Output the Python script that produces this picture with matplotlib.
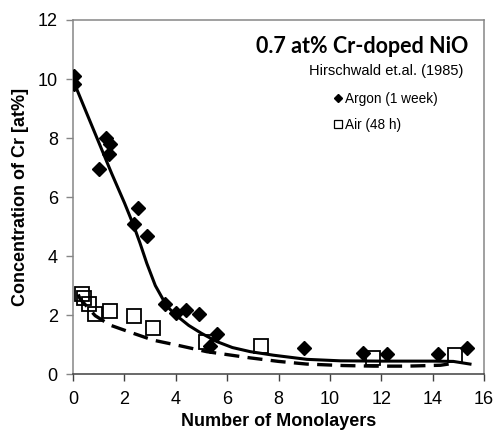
import matplotlib.pyplot as plt
from matplotlib.lines import Line2D

# measured Cr concentration vs. depth (monolayers removed)
argon_x = [0.05, 0.05, 1.02, 1.28, 1.38, 1.44, 2.37, 2.54, 2.87, 3.58, 4.0, 4.38, 4.9, 5.33, 5.62, 9.0, 11.3, 12.23, 14.22, 15.32]
argon_y = [10.1, 9.82, 6.95, 8.0, 7.46, 7.8, 5.1, 5.62, 4.68, 2.36, 2.06, 2.17, 2.02, 0.95, 1.37, 0.87, 0.72, 0.68, 0.68, 0.87]

air_x = [0.34, 0.43, 0.6, 0.86, 1.44, 2.37, 3.12, 5.16, 7.3, 11.66, 14.86]
air_y = [2.73, 2.59, 2.37, 2.03, 2.15, 1.97, 1.57, 1.1, 0.96, 0.56, 0.64]

# fitted profiles
fit_ar_x = [0.05, 0.5, 1.0, 1.5, 2.0, 2.35, 2.6, 2.87, 3.2, 3.65, 4.0, 4.5, 5.0, 5.6, 6.2, 6.9, 7.8, 9.1, 10.4, 12.0, 14.0, 14.8, 15.45]
fit_ar_y = [9.85, 8.9, 7.85, 6.8, 5.8, 5.05, 4.45, 3.75, 3.0, 2.3, 2.0, 1.65, 1.38, 1.1, 0.9, 0.76, 0.64, 0.5, 0.45, 0.44, 0.44, 0.43, 0.34]

fit_air_x = [0.2, 0.27, 0.86, 1.44, 2.35, 3.12, 4.16, 5.2, 6.89, 8.0, 9.09, 10.5, 11.7, 13.0, 14.3, 14.93]
fit_air_y = [2.7, 2.55, 1.98, 1.66, 1.38, 1.15, 0.96, 0.76, 0.55, 0.43, 0.34, 0.29, 0.27, 0.27, 0.3, 0.38]

labels = ['Argon (1 week)', 'Air (48 h)']

plt.rcParams['font.family'] = ['Liberation Sans', 'DejaVu Sans']

fig = plt.figure(figsize=(4.94, 4.30), dpi=100)
ax = fig.add_axes([0.148, 0.130, 0.832, 0.8235])

ax.plot(argon_x, argon_y, linestyle='none', marker='D', markersize=7.5,
        color='black', zorder=3)
ax.plot(air_x, air_y, linestyle='none', marker='s', markersize=10.5,
        markerfacecolor='none', markeredgecolor='black', markeredgewidth=1.3,
        zorder=3)
ax.plot(fit_ar_x, fit_ar_y, color='black', lw=2.2, zorder=4)
ax.plot(fit_air_x, fit_air_y, color='black', lw=2.4, dashes=(4.5, 2.5), zorder=4)

ax.set_xlim(0, 16)
ax.set_ylim(0, 12)
ax.set_xticks(range(0, 17, 2))
ax.set_yticks(range(0, 13, 2))
ax.tick_params(axis='both', direction='out', length=5, width=1, labelsize=13)
ax.tick_params(axis='x', pad=7, color='#404040')
ax.tick_params(axis='y', pad=6, color='#868686')

for side in ['top', 'right', 'left']:
    ax.spines[side].set_color('#868686')
ax.spines['bottom'].set_color('#404040')
for s in ax.spines.values():
    s.set_linewidth(1.1)

ax.set_xlabel('Number of Monolayers', fontsize=13, fontweight='bold', labelpad=4)
ax.set_ylabel('Concentration of Cr [at%]', fontsize=13, fontweight='bold', labelpad=6)

ax.text(0.961, 0.9076, '0.7 at% Cr-doped NiO', transform=ax.transAxes,
        ha='right', va='baseline', fontsize=15.5, fontweight='bold',
        family=['Lato', 'DejaVu Sans'])
ax.text(0.949, 0.8446, 'Hirschwald et.al. (1985)', transform=ax.transAxes,
        ha='right', va='baseline', fontsize=10.5)

# key uses smaller symbols than the plot
key = [Line2D([], [], linestyle='none', marker='D', markersize=4.5, color='black'),
       Line2D([], [], linestyle='none', marker='s', markersize=6, markerfacecolor='none',
              markeredgecolor='black', markeredgewidth=0.9)]
ax.legend(key, labels, loc='upper left', bbox_to_anchor=(0.624, 0.812), frameon=False,
          fontsize=9.8, handlelength=0.4, handletextpad=0.3,
          labelspacing=0.85, borderaxespad=0)

fig.savefig('out.png', dpi=100)
